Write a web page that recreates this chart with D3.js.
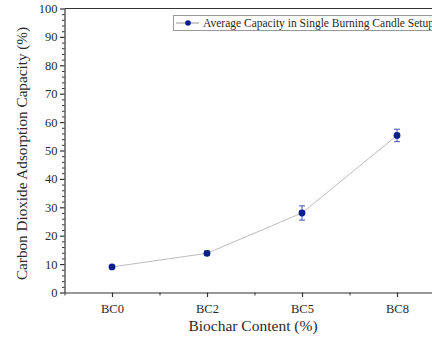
<!DOCTYPE html>
<html>
<head>
<meta charset="utf-8">
<script src="https://cdn.jsdelivr.net/npm/d3@7"></script>
<style>
  body { margin: 0; background: #fff; }
  svg text { font-family: 'Liberation Serif', 'Times New Roman', Times, serif !important; fill: #2a2a2a; }
</style>
</head>
<body>
<div id="chart"></div>
<script>
  const categories = ['BC0', 'BC2', 'BC5', 'BC8'];
  const capacity = [9.0, 13.8, 28.0, 55.3];
  const capacityErr = [0.5, 0.8, 2.5, 2.2];
  const yTicks = [0, 10, 20, 30, 40, 50, 60, 70, 80, 90, 100];
  const legendLabel = 'Average Capacity in Single Burning Candle Setup';

  const width = 432, height = 339;
  const plotLeft = 64.5, plotTop = 8.5, plotBottom = 292.5, plotRight = 444.5;

  const svg = d3.select('#chart').append('svg')
    .attr('width', width)
    .attr('height', height);

  const x = d3.scaleLinear()
    .domain([-0.5, categories.length - 0.5])
    .range([plotLeft, plotRight]);

  const y = d3.scaleLinear()
    .domain([0, 100])
    .range([plotBottom, plotTop]);

  // minor ticks
  const yMinor = d3.range(0, 101, 2).filter(v => v % 10 !== 0);
  svg.append('g')
    .attr('transform', `translate(${plotLeft},0)`)
    .call(d3.axisLeft(y).tickValues(yMinor).tickSize(2.5).tickFormat(''))
    .call(g => g.select('.domain').remove())
    .selectAll('line').attr('stroke', '#333');

  const xMinor = d3.range(-0.5, categories.length, 1);
  svg.append('g')
    .attr('transform', `translate(0,${plotBottom})`)
    .call(d3.axisBottom(x).tickValues(xMinor).tickSize(3).tickFormat(''))
    .call(g => g.select('.domain').remove())
    .selectAll('line').attr('stroke', '#333');

  // y axis
  const yAxis = svg.append('g')
    .attr('transform', `translate(${plotLeft},0)`)
    .call(d3.axisLeft(y).tickValues(yTicks).tickSize(4.5).tickPadding(2.5).tickSizeOuter(0));
  yAxis.attr('font-family', null).attr('font-size', null);
  yAxis.selectAll('text').style('font-size', '12.5px');
  yAxis.selectAll('line, path').attr('stroke', '#333').attr('stroke-width', 1.2);

  // x axis
  const xAxis = svg.append('g')
    .attr('transform', `translate(0,${plotBottom})`)
    .call(d3.axisBottom(x).tickValues(d3.range(categories.length))
      .tickFormat(i => categories[i]).tickSize(4.5).tickPadding(7).tickSizeOuter(0));
  xAxis.attr('font-family', null).attr('font-size', null);
  xAxis.selectAll('text').style('font-size', '12.5px');
  xAxis.selectAll('line, path').attr('stroke', '#333').attr('stroke-width', 1.2);

  // top frame
  svg.append('line')
    .attr('x1', plotLeft).attr('x2', plotRight)
    .attr('y1', plotTop).attr('y2', plotTop)
    .attr('stroke', '#333').attr('stroke-width', 1.2);

  // axis titles
  svg.append('text')
    .attr('transform', `translate(27,153.5) rotate(-90)`)
    .attr('text-anchor', 'middle')
    .style('font-size', '15.2px')
    .text('Carbon Dioxide Adsorption Capacity (%)');

  svg.append('text')
    .attr('x', 253)
    .attr('y', 331)
    .attr('text-anchor', 'middle')
    .style('font-size', '15.5px')
    .text('Biochar Content (%)');

  // line
  const line = d3.line()
    .x((d, i) => x(i))
    .y(d => y(d));

  svg.append('path')
    .datum(capacity)
    .attr('d', line)
    .attr('fill', 'none')
    .attr('stroke', '#b4b4b4')
    .attr('stroke-width', 0.9);

  // error bars
  const err = svg.append('g').attr('stroke', '#2a3fb0').attr('stroke-width', 0.9);
  capacity.forEach((v, i) => {
    const cx = x(i);
    const lo = y(v - capacityErr[i]), hi = y(v + capacityErr[i]);
    err.append('line').attr('x1', cx).attr('x2', cx).attr('y1', lo).attr('y2', hi);
    err.append('line').attr('x1', cx - 3).attr('x2', cx + 3).attr('y1', lo).attr('y2', lo);
    err.append('line').attr('x1', cx - 3).attr('x2', cx + 3).attr('y1', hi).attr('y2', hi);
  });

  // points
  svg.selectAll('.pt')
    .data(capacity)
    .enter()
    .append('circle')
      .attr('class', 'pt')
      .attr('cx', (d, i) => x(i))
      .attr('cy', d => y(d))
      .attr('r', 3.4)
      .attr('fill', '#0a1f8f');

  // legend
  const lg = svg.append('g');
  lg.append('rect')
    .attr('x', 173.5).attr('y', 15.5)
    .attr('width', 300).attr('height', 15)
    .attr('fill', '#fff')
    .attr('stroke', '#999')
    .attr('stroke-width', 1);
  lg.append('line')
    .attr('x1', 176).attr('x2', 199)
    .attr('y1', 23).attr('y2', 23)
    .attr('stroke', '#888').attr('stroke-width', 0.9);
  lg.append('circle')
    .attr('cx', 188).attr('cy', 23).attr('r', 2.8)
    .attr('fill', '#0a1f8f');
  lg.append('text')
    .attr('x', 203).attr('y', 27)
    .style('font-size', '11.5px')
    .text(legendLabel);
</script>
</body>
</html>
